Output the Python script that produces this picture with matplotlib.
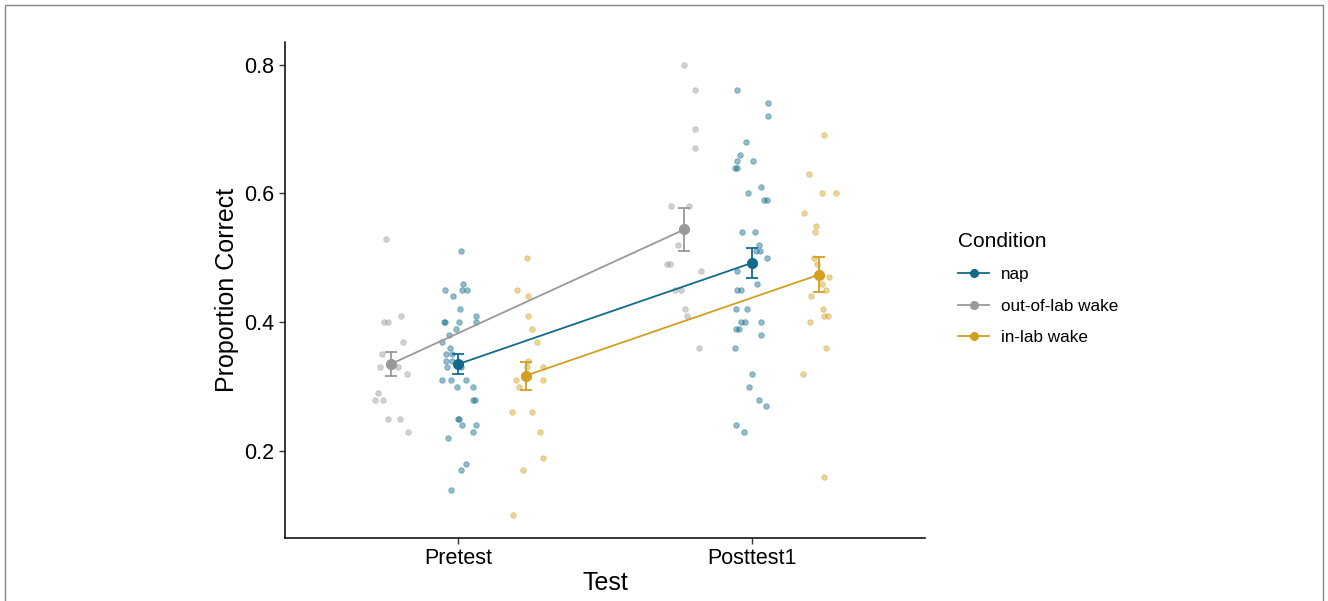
import matplotlib.pyplot as plt
from matplotlib.lines import Line2D
from matplotlib.patches import Rectangle

plt.rcParams['font.family'] = ['Liberation Sans', 'DejaVu Sans']

tests = ["Pretest", "Posttest1"]
conditions = ["nap", "out-of-lab wake", "in-lab wake"]

# individual proportions and their horizontal jitter
nap_pre = [0.51, 0.46, 0.45, 0.45, 0.45, 0.44, 0.42, 0.41, 0.40, 0.40, 0.40,
           0.40, 0.39, 0.38, 0.37, 0.36, 0.35, 0.35, 0.34, 0.34, 0.33, 0.33,
           0.31, 0.31, 0.31, 0.30, 0.30, 0.28, 0.28, 0.25, 0.25, 0.24, 0.24,
           0.23, 0.22, 0.18, 0.17, 0.14]
nap_pre_jit = [0.010, 0.016, -0.045, 0.014, 0.030, -0.016, 0.006, 0.059,
               -0.049, -0.045, 0.004, 0.061, -0.009, -0.031, -0.054, -0.028,
               -0.040, -0.020, -0.040, -0.020, -0.038, 0.009, -0.055, -0.026,
               0.026, -0.004, 0.051, 0.049, 0.056, -0.001, 0.003, 0.014,
               0.061, 0.051, -0.035, 0.025, 0.009, -0.023]
nap_post = [0.76, 0.74, 0.72, 0.68, 0.66, 0.65, 0.65, 0.64, 0.64, 0.61, 0.60,
            0.59, 0.59, 0.54, 0.54, 0.52, 0.51, 0.51, 0.50, 0.48, 0.46, 0.45,
            0.45, 0.42, 0.42, 0.40, 0.40, 0.40, 0.39, 0.39, 0.38, 0.36, 0.32,
            0.30, 0.28, 0.27, 0.24, 0.23]
nap_post_jit = [-0.051, 0.055, 0.057, -0.020, -0.040, -0.050, 0.004, -0.057,
                -0.051, 0.031, -0.013, 0.041, 0.051, -0.032, 0.011, 0.024,
                0.016, 0.028, 0.051, -0.050, 0.017, -0.050, -0.038, -0.055,
                -0.016, -0.038, -0.024, 0.031, -0.052, -0.045, 0.031, -0.056,
                0.002, -0.008, 0.026, 0.047, -0.052, -0.025]

out_pre = [0.53, 0.40, 0.40, 0.41, 0.37, 0.35, 0.33, 0.33, 0.32, 0.29, 0.28,
           0.28, 0.25, 0.25, 0.23]
out_pre_jit = [-0.015, -0.023, -0.009, 0.034, 0.042, -0.030, -0.035, 0.026,
               0.056, -0.043, -0.054, -0.027, -0.009, 0.032, 0.059]
out_post = [0.80, 0.76, 0.70, 0.67, 0.58, 0.58, 0.52, 0.49, 0.49, 0.48, 0.45,
            0.45, 0.42, 0.41, 0.36]
out_post_jit = [-0.001, 0.037, 0.035, 0.036, -0.045, 0.016, -0.022, -0.057,
                -0.047, 0.057, -0.030, -0.010, 0.003, 0.011, 0.049]

lab_pre = [0.50, 0.45, 0.44, 0.41, 0.39, 0.37, 0.34, 0.33, 0.33, 0.31, 0.31,
           0.30, 0.26, 0.26, 0.23, 0.19, 0.17, 0.10]
lab_pre_jit = [0.004, -0.028, 0.008, 0.007, 0.020, 0.040, 0.009, 0.004,
               0.058, -0.032, 0.058, -0.023, -0.047, 0.020, 0.047, 0.060,
               -0.010, -0.042]
lab_post = [0.69, 0.63, 0.60, 0.60, 0.57, 0.55, 0.54, 0.50, 0.49, 0.47, 0.46,
            0.45, 0.44, 0.42, 0.41, 0.41, 0.40, 0.36, 0.32, 0.16]
lab_post_jit = [0.016, -0.035, 0.008, 0.057, -0.053, -0.010, -0.013, -0.017,
                -0.009, 0.034, 0.010, 0.022, -0.029, 0.014, 0.016, 0.030,
                -0.030, 0.023, -0.057, 0.016]

# group means and standard errors
nap_mean = [0.335, 0.492]
nap_se = [0.015, 0.023]
out_mean = [0.335, 0.544]
out_se = [0.019, 0.033]
lab_mean = [0.317, 0.474]
lab_se = [0.022, 0.027]

colors = {"nap": "#116a8c", "out-of-lab wake": "#999999",
          "in-lab wake": "#d49f1f"}
dodge = {"nap": 0.0, "out-of-lab wake": -0.23, "in-lab wake": 0.23}

groups = {
    "nap": ([nap_pre, nap_post], [nap_pre_jit, nap_post_jit],
            nap_mean, nap_se),
    "out-of-lab wake": ([out_pre, out_post], [out_pre_jit, out_post_jit],
                        out_mean, out_se),
    "in-lab wake": ([lab_pre, lab_post], [lab_pre_jit, lab_post_jit],
                    lab_mean, lab_se),
}

fig = plt.figure(figsize=(13.28, 6.01), dpi=100)
ax = fig.add_axes([0.2146, 0.1048, 0.4819, 0.8252])

for cond in ["out-of-lab wake", "nap", "in-lab wake"]:
    vals, jits, means, ses = groups[cond]
    col = colors[cond]
    xs_mean = []
    for i, (v, j) in enumerate(zip(vals, jits)):
        xc = i + 1 + dodge[cond]
        xs_mean.append(xc)
        ax.scatter([xc + d for d in j], v, s=16, color=col, alpha=0.45,
                   linewidths=0.6, zorder=2)
    ax.plot(xs_mean, means, color=col, lw=1.3, zorder=3)
    ax.errorbar(xs_mean, means, yerr=ses, fmt='none', ecolor=col,
                elinewidth=1.3, capsize=4, capthick=1.3, zorder=4)
    ax.plot(xs_mean, means, 'o', color=col, ms=7, zorder=5)

ax.set_xlim(0.41, 2.59)
ax.set_ylim(0.065, 0.835)
ax.set_xticks([1, 2])
ax.set_xticklabels(tests)
ax.set_yticks([0.2, 0.4, 0.6, 0.8])
ax.set_yticklabels(["0.2", "0.4", "0.6", "0.8"])
ax.tick_params(labelsize=15.5, length=4, width=1, color="#333333",
               labelcolor="black")
for s in ["top", "right"]:
    ax.spines[s].set_visible(False)
for s in ["left", "bottom"]:
    ax.spines[s].set_linewidth(1.1)
ax.set_xlabel("Test", fontsize=18, labelpad=1)
ax.set_ylabel("Proportion Correct", fontsize=18, labelpad=4)

handles = [Line2D([0], [0], color=colors[c], lw=1.3, marker='o', ms=5.5)
           for c in conditions]
leg = fig.legend(handles, conditions, loc="upper left",
                 bbox_to_anchor=(0.71, 0.64), frameon=False,
                 title="Condition", fontsize=12.3, title_fontsize=15,
                 handlelength=1.8, labelspacing=0.97, handletextpad=0.7)
leg._legend_box.align = "left"

# light frame around the figure
fig.patches.append(Rectangle((0.004, -0.02), 0.992, 1.012,
                             transform=fig.transFigure, fill=False,
                             edgecolor="#888888", lw=1.0))

fig.savefig("out.png", dpi=100)
